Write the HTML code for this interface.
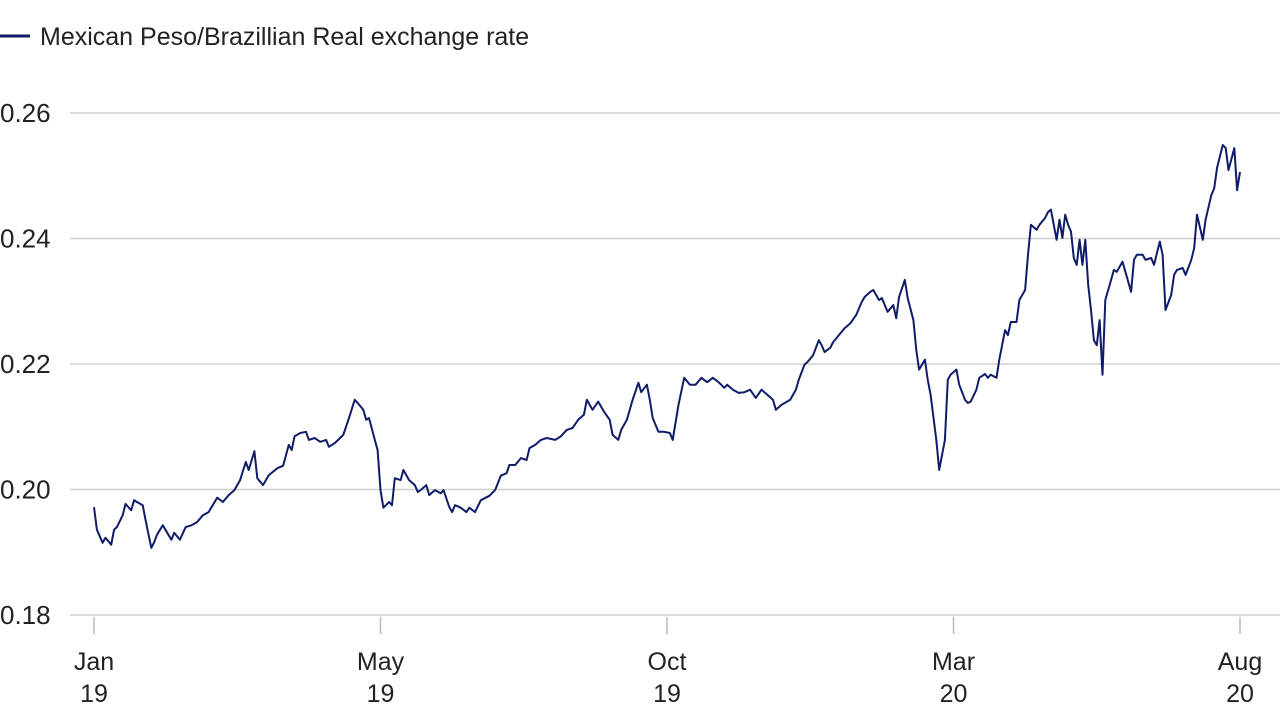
<!DOCTYPE html>
<html><head><meta charset="utf-8"><style>
html,body{margin:0;padding:0;background:#fff;}
svg{display:block;font-family:"Liberation Sans",sans-serif;}
</style></head><body>
<svg id="chart" width="1280" height="720">
<g>
<line x1="0" y1="36" x2="30" y2="36" stroke="#101c6a" stroke-width="3"/>
<text x="40" y="45" font-size="25" fill="#222">Mexican Peso/Brazillian Real exchange rate</text>
</g>
<g id="grid"></g>
<g id="yaxis"></g>
<g id="xaxis"></g>
<path id="line" fill="none" stroke="#101c6a" stroke-width="2" stroke-linejoin="round"/>
</svg>
<script>
const days=[0,1,3,4,6,7,8,10,11,13,14,15,17,18,20,21,22,24,27,28,30,32,34,36,38,40,43,45,47,49,51,53,54,56,57,59,61,64,66,68,69,70,72,74,75,77,79,81,82,84,87,89,91,92,94,95,96,98,99,100,101,103,104,105,107,108,110,112,113,114,116,117,119,121,122,124,125,126,128,130,131,133,135,138,140,142,144,145,147,149,151,152,154,156,158,161,163,165,167,169,171,172,174,176,178,180,181,183,184,186,188,190,191,193,194,195,197,199,201,202,204,206,208,210,212,214,216,218,220,221,223,225,227,229,231,233,235,237,238,240,243,245,246,248,249,251,253,254,255,257,258,260,262,264,266,268,269,271,272,274,275,277,279,280,281,283,284,286,287,288,290,291,292,294,295,297,298,299,301,302,304,305,306,308,309,311,312,313,315,316,318,319,320,322,323,325,326,327,329,330,332,333,334,336,337,338,339,340,341,342,343,344,345,346,347,348,349,350,351,352,353,355,356,357,359,360,362,363,364,366,367,369,370,372,373,374,376,377,378,380,381,383,384,385,387,388,390,391,392,394,395,396,398,399,400];
const rates=[0.1972,0.1936,0.1915,0.1923,0.1912,0.1936,0.1940,0.1959,0.1977,0.1967,0.1983,0.1980,0.1975,0.1951,0.1907,0.1916,0.1928,0.1943,0.1920,0.1931,0.1920,0.1940,0.1943,0.1948,0.1959,0.1964,0.1987,0.1980,0.1991,0.1999,0.2015,0.2044,0.2031,0.2061,0.2018,0.2007,0.2023,0.2034,0.2038,0.2071,0.2063,0.2085,0.2090,0.2092,0.2079,0.2082,0.2076,0.2079,0.2068,0.2074,0.2087,0.2114,0.2143,0.2138,0.2127,0.2111,0.2114,0.2079,0.2063,0.1999,0.1971,0.1980,0.1975,0.2018,0.2015,0.2031,0.2015,0.2007,0.1996,0.1999,0.2007,0.1991,0.1999,0.1994,0.1999,0.1972,0.1964,0.1975,0.1971,0.1964,0.1971,0.1964,0.1983,0.1990,0.1999,0.2022,0.2026,0.2039,0.2039,0.2050,0.2047,0.2066,0.2071,0.2079,0.2082,0.2079,0.2085,0.2095,0.2098,0.2111,0.2119,0.2143,0.2127,0.2140,0.2124,0.2111,0.2087,0.2079,0.2095,0.2111,0.2143,0.2170,0.2155,0.2167,0.2143,0.2114,0.2092,0.2092,0.2090,0.2079,0.2135,0.2178,0.2167,0.2167,0.2178,0.2171,0.2178,0.2171,0.2162,0.2167,0.2159,0.2154,0.2155,0.2159,0.2146,0.2159,0.2151,0.2143,0.2127,0.2135,0.2143,0.2159,0.2175,0.2199,0.2203,0.2214,0.2238,0.2230,0.2219,0.2226,0.2235,0.2246,0.2257,0.2265,0.2278,0.2299,0.2307,0.2315,0.2318,0.2302,0.2305,0.2283,0.2294,0.2273,0.2307,0.2334,0.2305,0.2270,0.2222,0.2191,0.2207,0.2175,0.2151,0.2079,0.2031,0.2079,0.2175,0.2183,0.2191,0.2167,0.2143,0.2138,0.2140,0.2159,0.2178,0.2184,0.2178,0.2183,0.2178,0.2207,0.2254,0.2246,0.2267,0.2267,0.2302,0.2318,0.2374,0.2422,0.2414,0.2422,0.2433,0.2442,0.2446,0.2398,0.2430,0.2401,0.2438,0.2422,0.2411,0.2369,0.2358,0.2398,0.2358,0.2398,0.2326,0.2286,0.2238,0.2230,0.2270,0.2183,0.2302,0.2334,0.2350,0.2347,0.2363,0.2347,0.2315,0.2366,0.2374,0.2374,0.2366,0.2369,0.2358,0.2395,0.2374,0.2286,0.2310,0.2342,0.2350,0.2353,0.2342,0.2366,0.2385,0.2438,0.2398,0.2430,0.2469,0.2480,0.2513,0.2549,0.2544,0.2509,0.2544,0.2477,0.2506];
const yTicks=[0.18,0.20,0.22,0.24,0.26];
const yTickLabels=["0.18","0.20","0.22","0.24","0.26"];
const xTickDays=[0,100,200,300,400];
const xTickMonths=["Jan","May","Oct","Mar","Aug"];
const xTickYears=["19","19","19","20","20"];

const NS="http://www.w3.org/2000/svg";
const X=d=>94+(d-0)*(1240-94)/400;
const Y=v=>615-(v-0.18)*(615-113)/0.08;
const grid=document.getElementById('grid'),ya=document.getElementById('yaxis'),xa=document.getElementById('xaxis');
yTicks.forEach((t,i)=>{
  const l=document.createElementNS(NS,'line');
  
  
  l.setAttribute('x1',70);l.setAttribute('x2',1280);
  l.setAttribute('y1',Y(t));l.setAttribute('y2',Y(t));
  l.setAttribute('stroke','#d0d0d0');l.setAttribute('stroke-width','1.5');
  grid.appendChild(l);
  const tx=document.createElementNS(NS,'text');
  
  
  tx.setAttribute('x',0);tx.setAttribute('y',Y(t)+9);
  tx.setAttribute('font-size','26');tx.setAttribute('fill','#222');
  tx.textContent=yTickLabels[i];
  ya.appendChild(tx);
});
xTickDays.forEach((d,i)=>{
  const l=document.createElementNS(NS,'line');
  
  
  l.setAttribute('x1',X(d));l.setAttribute('x2',X(d));
  l.setAttribute('y1',617);l.setAttribute('y2',634);
  l.setAttribute('stroke','#bbb');l.setAttribute('stroke-width','1.5');
  xa.appendChild(l);
  [[xTickMonths[i],670],[xTickYears[i],702]].forEach(([s,y])=>{
    const tx=document.createElementNS(NS,'text');
    
    
    tx.setAttribute('x',X(d));tx.setAttribute('y',y);
    tx.setAttribute('text-anchor','middle');
    tx.setAttribute('font-size','25');tx.setAttribute('fill','#222');
    tx.textContent=s;
    xa.appendChild(tx);
  });
});
document.getElementById('line').setAttribute('d',days.map((d,i)=>(i?'L':'M')+X(d).toFixed(1)+','+Y(rates[i]).toFixed(1)).join(''));
</script>
</body></html>
